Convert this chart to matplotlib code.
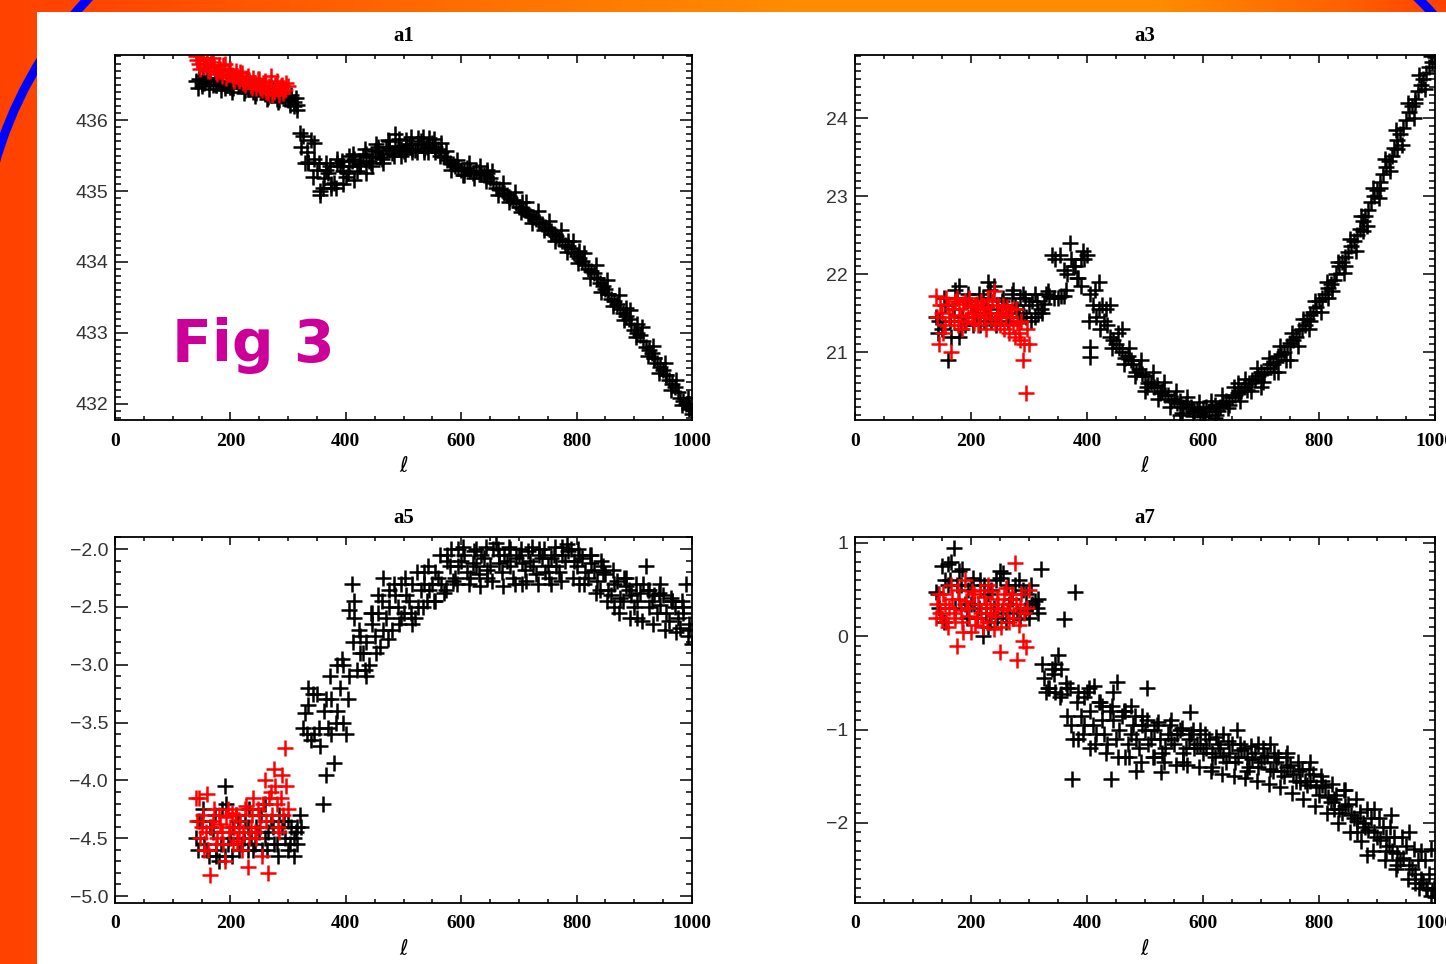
import numpy as np
import matplotlib.pyplot as plt
from matplotlib.patches import Rectangle, Arc

# ── data (ell = multipole) ────────────────────────────────────────────────
L_BLACK = [140, 150, 160, 170, 180, 190, 200, 210, 220, 230, 240, 250, 260, 270, 280,
           290, 300, 310, 320, 330, 340, 350, 360, 370, 380, 390, 400, 410, 420, 430,
           440, 450, 460, 470, 480, 490, 500, 510, 520, 530, 540, 550, 560, 570, 580,
           590, 600, 610, 620, 630, 640, 650, 660, 670, 680, 690, 700, 710, 720, 730,
           740, 750, 760, 770, 780, 790, 800, 810, 820, 830, 840, 850, 860, 870, 880,
           890, 900, 910, 920, 930, 940, 950, 960, 970, 980, 990, 1000]
L_BLACK2 = [145, 155, 165, 175, 185, 195, 205, 215, 225, 235, 245, 255, 265, 275, 285,
            295, 305, 315, 325, 335, 345, 355, 365, 375, 385, 395, 405, 415, 425, 435,
            445, 455, 465, 475, 485, 495, 505, 515, 525, 535, 545, 555, 565, 575, 585,
            595, 605, 615, 625, 635, 645, 655, 665, 675, 685, 695, 705, 715, 725, 735,
            745, 755, 765, 775, 785, 795, 805, 815, 825, 835, 845, 855, 865, 875, 885,
            895, 905, 915, 925, 935, 945, 955, 965, 975, 985, 995]
L_BLACK3 = [143, 153, 163, 173, 183, 193, 203, 213, 223, 233, 243, 253, 263, 273, 283,
            293, 303, 313, 323, 333, 343, 353, 363, 373, 383, 393, 403, 413, 423, 433,
            443, 453, 463, 473, 483, 493, 503, 513, 523, 533, 543, 553, 563, 573, 583,
            593, 603, 613, 623, 633, 643, 653, 663, 673, 683, 693, 703, 713, 723, 733,
            743, 753, 763, 773, 783, 793, 803, 813, 823, 833, 843, 853, 863, 873, 883,
            893, 903, 913, 923, 933, 943, 953, 963, 973, 983, 993]
L_RED = [140, 145, 150, 155, 160, 165, 170, 175, 180, 185, 190, 195, 200, 205, 210,
         215, 220, 225, 230, 235, 240, 245, 250, 255, 260, 265, 270, 275, 280, 285,
         290, 295, 300]
L_RED2 = [142, 147, 152, 157, 162, 167, 172, 177, 182, 187, 192, 197, 202, 207, 212,
          217, 222, 227, 232, 237, 242, 247, 252, 257, 262, 267, 272, 277, 282, 287,
          292, 297]

A1_BLACK = [436.55, 436.48, 436.60, 436.50, 436.56, 436.46, 436.47, 436.55, 436.48, 436.44,
            436.40, 436.46, 436.37, 436.35, 436.30, 436.34, 436.28, 436.20, 435.82, 435.40,
            435.72, 435.30, 435.05, 435.25, 435.12, 435.35, 435.20, 435.42, 435.28, 435.50,
            435.42, 435.56, 435.48, 435.62, 435.54, 435.64, 435.56, 435.66, 435.58, 435.70,
            435.62, 435.68, 435.60, 435.48, 435.40, 435.36, 435.30, 435.32, 435.26, 435.27,
            435.22, 435.18, 435.05, 435.02, 434.94, 434.88, 434.78, 434.73, 434.65, 434.61,
            434.53, 434.48, 434.40, 434.33, 434.24, 434.19, 434.08, 434.01, 433.90, 433.84,
            433.70, 433.62, 433.48, 433.40, 433.28, 433.20, 433.04, 432.97, 432.80, 432.72,
            432.58, 432.47, 432.33, 432.24, 432.08, 432.00, 431.85]
A1_BLACK2 = [436.58, 436.52, 436.55, 436.50, 436.52, 436.50, 436.45, 436.50, 436.42, 436.46,
             436.38, 436.42, 436.33, 436.38, 436.28, 436.30, 436.32, 436.22, 435.78, 435.40,
             435.45, 435.00, 435.30, 435.10, 435.40, 435.28, 435.35, 435.45, 435.38, 435.52,
             435.48, 435.58, 435.52, 435.58, 435.62, 435.60, 435.62, 435.60, 435.66, 435.60,
             435.66, 435.62, 435.55, 435.44, 435.38, 435.33, 435.30, 435.29, 435.28, 435.24,
             435.26, 435.12, 435.03, 434.97, 434.90, 434.83, 434.76, 434.68, 434.63, 434.57,
             434.50, 434.44, 434.36, 434.29, 434.22, 434.13, 434.05, 433.96, 433.87, 433.77,
             433.66, 433.55, 433.45, 433.34, 433.24, 433.12, 433.00, 432.88, 432.76, 432.64,
             432.52, 432.40, 432.28, 432.16, 432.04, 431.92]
A1_BLACK3 = [436.45, 436.62, 436.44, 436.60, 436.42, 436.56, 436.40, 436.55, 436.38, 436.50,
             436.34, 436.48, 436.30, 436.44, 436.26, 436.40, 436.22, 436.32, 435.62, 435.55,
             435.20, 435.40, 435.18, 435.35, 435.05, 435.42, 435.25, 435.52, 435.35, 435.60,
             435.40, 435.66, 435.45, 435.72, 435.50, 435.74, 435.52, 435.76, 435.55, 435.76,
             435.55, 435.74, 435.50, 435.56, 435.30, 435.44, 435.22, 435.40, 435.18, 435.36,
             435.14, 435.28, 434.95, 435.12, 434.84, 434.98, 434.70, 434.84, 434.55, 434.72,
             434.45, 434.58, 434.30, 434.45, 434.14, 434.30, 433.98, 434.12, 433.78, 433.95,
             433.58, 433.74, 433.38, 433.54, 433.18, 433.32, 432.94, 433.08, 432.68, 432.82,
             432.44, 432.58, 432.20, 432.34, 431.98, 432.08]
A1_EXTRA_L = [150, 175, 200, 305, 310, 315, 335, 345, 355, 365, 375, 385, 395, 405, 415,
              425, 435, 445, 455, 465, 475, 485, 495, 505, 515, 525, 535, 545, 555, 565,
              605, 645, 705, 755, 785, 805, 835, 855, 885, 905, 935, 955, 995]
A1_EXTRA_V = [436.52, 436.50, 436.47, 436.35, 436.25, 436.15, 435.41, 435.68, 434.94, 435.40,
              435.05, 435.45, 435.10, 435.50, 435.15, 435.40, 435.25, 435.35, 435.62, 435.40,
              435.70, 435.80, 435.50, 435.72, 435.55, 435.75, 435.55, 435.75, 435.55, 435.68,
              435.22, 435.30, 434.85, 434.40, 434.30, 434.15, 433.78, 433.55, 433.35, 433.12,
              432.65, 432.40, 431.95]
A1_RED = [436.90, 436.80, 436.95, 436.75, 436.85, 436.70, 436.88, 436.68, 436.78, 436.62,
          436.80, 436.65, 436.72, 436.58, 436.70, 436.55, 436.66, 436.50, 436.62, 436.48,
          436.60, 436.45, 436.58, 436.42, 436.55, 436.38, 436.62, 436.40, 436.55, 436.35,
          436.50, 436.42, 436.48]
A1_RED2 = [436.85, 436.72, 436.88, 436.80, 436.70, 436.82, 436.75, 436.65, 436.72, 436.78,
           436.60, 436.70, 436.64, 436.55, 436.62, 436.68, 436.52, 436.60, 436.55, 436.45,
           436.52, 436.58, 436.45, 436.52, 436.40, 436.48, 436.36, 436.50, 436.42, 436.48,
           436.38, 436.52]

A3_BLACK = [21.45, 21.30, 20.90, 21.55, 21.85, 21.35, 21.60, 21.45, 21.70, 21.50,
            21.85, 21.45, 21.60, 21.75, 21.55, 21.50, 21.60, 21.45, 21.55, 21.75,
            22.25, 21.70, 22.05, 22.40, 22.10, 21.85, 22.25, 21.60, 21.55, 21.40,
            21.20, 21.10, 21.00, 20.95, 20.85, 20.78, 20.70, 20.62, 20.58, 20.50,
            20.45, 20.40, 20.38, 20.33, 20.30, 20.26, 20.28, 20.25, 20.32, 20.30,
            20.38, 20.42, 20.48, 20.55, 20.60, 20.66, 20.75, 20.80, 20.85, 20.95,
            21.00, 21.12, 21.20, 21.30, 21.42, 21.52, 21.65, 21.75, 21.88, 22.00,
            22.15, 22.28, 22.42, 22.58, 22.75, 22.92, 23.08, 23.28, 23.45, 23.62,
            23.80, 23.98, 24.15, 24.35, 24.50, 24.65, 24.78]
A3_BLACK2 = [21.40, 21.60, 21.20, 21.70, 21.45, 21.75, 21.50, 21.35, 21.60, 21.40,
             21.55, 21.70, 21.50, 21.60, 21.70, 21.45, 21.65, 21.50, 21.62, 21.72,
             22.20, 21.72, 22.00, 22.10, 21.95, 22.20, 21.75, 21.45, 21.60, 21.35,
             21.15, 21.05, 20.92, 20.90, 20.75, 20.72, 20.60, 20.55, 20.48, 20.45,
             20.38, 20.35, 20.30, 20.28, 20.24, 20.22, 20.30, 20.28, 20.25, 20.35,
             20.32, 20.45, 20.50, 20.52, 20.64, 20.70, 20.72, 20.85, 20.88, 20.98,
             21.08, 21.15, 21.28, 21.35, 21.48, 21.58, 21.70, 21.82, 21.93, 22.10,
             22.22, 22.36, 22.50, 22.68, 22.82, 23.00, 23.18, 23.38, 23.52, 23.72,
             23.88, 24.08, 24.25, 24.42, 24.58, 24.72]
A3_BLACK3 = [21.25, 21.70, 21.40, 21.80, 21.30, 21.65, 21.35, 21.75, 21.40, 21.80,
             21.35, 21.65, 21.40, 21.80, 21.45, 21.70, 21.40, 21.65, 21.50, 21.78,
             21.70, 22.25, 21.80, 22.20, 21.95, 22.30, 21.40, 21.80, 21.30, 21.55,
             21.05, 21.25, 20.85, 21.05, 20.70, 20.90, 20.55, 20.75, 20.40, 20.62,
             20.30, 20.50, 20.22, 20.42, 20.18, 20.36, 20.18, 20.38, 20.20, 20.45,
             20.28, 20.55, 20.38, 20.66, 20.50, 20.80, 20.62, 20.92, 20.75, 21.08,
             20.90, 21.25, 21.08, 21.42, 21.30, 21.66, 21.52, 21.90, 21.78, 22.15,
             22.02, 22.45, 22.30, 22.75, 22.62, 23.10, 22.98, 23.48, 23.32, 23.85,
             23.65, 24.20, 24.00, 24.55, 24.38, 24.80]
A3_EXTRA_L = [180, 230, 290, 310, 360, 390, 406, 406, 420, 440, 460, 500, 560, 600, 620,
              660, 700, 730, 750, 785, 815, 845, 875, 905, 935, 965]
A3_EXTRA_V = [21.20, 21.90, 21.75, 21.75, 21.72, 22.20, 21.06, 20.94, 21.90, 21.60,
              21.30, 20.50, 20.20, 20.18, 20.15, 20.60, 20.55, 20.75, 20.90, 21.40,
              21.70, 22.10, 22.55, 23.10, 23.60, 24.20]
A3_RED = [21.72, 21.10, 21.50, 21.35, 21.62, 21.00, 21.40, 21.70, 21.55, 21.30,
          21.65, 21.45, 21.58, 21.38, 21.62, 21.48, 21.55, 21.30, 21.68, 21.42,
          21.78, 21.50, 21.35, 21.60, 21.45, 21.25, 21.55, 21.20, 21.38, 21.15,
          20.90, 20.48, 21.10]
A3_RED2 = [21.45, 21.60, 21.25, 21.70, 21.45, 21.55, 21.65, 21.35, 21.48, 21.62,
           21.40, 21.70, 21.50, 21.60, 21.35, 21.66, 21.45, 21.58, 21.50, 21.65,
           21.38, 21.60, 21.48, 21.30, 21.58, 21.45, 21.35, 21.55, 21.25, 21.40,
           21.10, 21.30]

A5_BLACK = [-4.50, -4.35, -4.60, -4.45, -4.70, -4.05, -4.50, -4.30, -4.55, -4.40,
            -4.60, -4.45, -4.50, -4.35, -4.55, -4.40, -4.60, -4.50, -4.30, -3.42,
            -3.65, -3.25, -4.20, -3.55, -3.85, -3.20, -3.60, -2.30, -3.05, -2.90,
            -3.00, -2.75, -2.85, -2.60, -2.70, -2.50, -2.55, -2.45, -2.60, -2.35,
            -2.45, -2.30, -2.25, -2.38, -2.15, -2.25, -2.10, -2.20, -2.12, -2.22,
            -2.08, -2.15, -1.95, -2.20, -2.10, -2.25, -2.05, -2.18, -2.10, -2.22,
            -2.08, -2.15, -2.05, -2.20, -2.10, -2.00, -2.15, -2.08, -2.25, -2.18,
            -2.35, -2.22, -2.40, -2.28, -2.45, -2.35, -2.50, -2.38, -2.15, -2.45,
            -2.55, -2.40, -2.62, -2.50, -2.68, -2.30, -2.82]
A5_BLACK2 = [-4.35, -4.55, -4.40, -4.60, -4.25, -4.55, -4.40, -4.60, -4.35, -4.50,
             -4.40, -4.60, -4.45, -4.55, -4.30, -4.50, -4.40, -4.55, -3.55, -3.35,
             -3.60, -3.70, -3.30, -3.60, -3.40, -3.00, -3.10, -2.60, -2.90, -2.80,
             -2.65, -2.55, -2.70, -2.50, -2.40, -2.60, -2.40, -2.30, -2.50, -2.30,
             -2.35, -2.20, -2.30, -2.10, -2.28, -2.15, -2.05, -2.25, -2.15, -2.05,
             -2.18, -2.00, -2.12, -2.05, -2.15, -2.08, -2.12, -2.02, -2.15, -2.05,
             -2.20, -2.08, -2.15, -2.05, -2.02, -2.10, -2.05, -2.20, -2.12, -2.28,
             -2.20, -2.35, -2.30, -2.42, -2.32, -2.40, -2.45, -2.30, -2.50, -2.40,
             -2.48, -2.55, -2.45, -2.60, -2.50, -2.65]
A5_BLACK3 = [-4.60, -4.25, -4.65, -4.30, -4.55, -4.20, -4.65, -4.35, -4.50, -4.25,
             -4.55, -4.30, -4.60, -4.40, -4.65, -4.35, -4.55, -4.45, -4.40, -3.60,
             -3.25, -3.55, -3.40, -3.10, -3.50, -2.95, -3.30, -2.80, -2.70, -3.05,
             -2.55, -2.90, -2.45, -2.78, -2.30, -2.65, -2.25, -2.55, -2.20, -2.50,
             -2.15, -2.45, -2.05, -2.35, -2.00, -2.30, -1.98, -2.30, -2.02, -2.32,
             -1.98, -2.28, -2.00, -2.32, -1.98, -2.30, -2.00, -2.28, -1.98, -2.30,
             -2.00, -2.25, -1.98, -2.28, -1.96, -2.25, -2.00, -2.30, -2.05, -2.38,
             -2.10, -2.45, -2.18, -2.55, -2.25, -2.60, -2.30, -2.62, -2.35, -2.65,
             -2.38, -2.70, -2.42, -2.72, -2.45, -2.75]
A5_EXTRA_L = [175, 190, 230, 260, 300, 310, 315, 335, 365, 375, 385, 395, 405, 415, 425,
              435, 445, 455, 465, 475, 495, 515, 535, 555, 575, 595, 625, 645, 665, 685,
              705, 735, 755, 775, 805, 825, 845, 865, 885, 905, 925, 945, 965, 985, 995]
A5_EXTRA_V = [-4.65, -4.65, -4.60, -4.20, -4.35, -4.65, -4.40, -3.20, -3.95, -3.30,
              -3.00, -3.50, -2.53, -2.45, -2.75, -3.10, -2.55, -2.40, -2.25, -2.35,
              -2.30, -2.65, -2.20, -2.45, -2.05, -2.00, -2.00, -2.25, -2.05, -2.00,
              -2.30, -2.00, -2.30, -1.98, -2.30, -2.05, -2.15, -2.50, -2.25, -2.60,
              -2.35, -2.30, -2.45, -2.55, -2.70]
A5_RED = [-4.15, -4.15, -4.40, -4.60, -4.12, -4.82, -4.35, -4.55, -4.30, -4.45,
          -4.70, -4.25, -4.40, -4.55, -4.30, -4.45, -4.60, -4.25, -4.75, -4.40,
          -4.15, -4.50, -4.30, -4.65, -4.00, -4.80, -4.10, -3.90, -4.20, -4.45,
          -3.95, -3.72, -4.25]
A5_RED2 = [-4.35, -4.50, -4.30, -4.45, -4.60, -4.40, -4.25, -4.50, -4.38, -4.55,
           -4.32, -4.45, -4.28, -4.40, -4.52, -4.35, -4.45, -4.22, -4.50, -4.30,
           -4.45, -4.25, -4.40, -4.20, -4.35, -4.15, -4.30, -4.05, -4.40, -4.15,
           -4.30, -4.05]

A7_BLACK = [0.47, 0.75, 0.77, 0.95, 0.70, 0.35, 0.55, 0.20, 0.00, 0.45,
            0.30, 0.62, 0.15, 0.40, 0.25, 0.50, 0.30, 0.38, 0.72, -0.60,
            -0.35, -0.20, 0.18, -0.55, 0.47, -0.85, -0.60, -0.95, -0.70, -1.05,
            -0.80, -1.10, -0.85, -1.15, -0.95, -1.20, -1.00, -1.10, -0.95, -1.25,
            -1.05, -1.15, -1.00, -1.20, -1.05, -1.15, -1.25, -1.10, -1.30, -1.20,
            -1.35, -1.15, -1.30, -1.20, -1.40, -1.25, -1.35, -1.28, -1.45, -1.30,
            -1.50, -1.38, -1.55, -1.42, -1.60, -1.48, -1.70, -1.62, -1.78, -1.70,
            -1.90, -1.80, -1.95, -1.88, -2.05, -1.95, -2.15, -2.05, -2.25, -2.15,
            -2.40, -2.25, -2.50, -2.40, -2.65, -2.55, -2.80]
A7_BLACK2 = [0.30, 0.60, 0.80, 0.55, 0.72, 0.50, 0.35, 0.60, 0.25, 0.50,
             0.20, 0.68, 0.35, 0.55, 0.18, 0.45, 0.35, 0.25, -0.45, -0.55,
             -0.30, -0.62, -0.85, -1.10, -0.60, -0.95, -0.80, -1.05, -0.75, -1.15,
             -0.90, -1.00, -0.80, -1.05, -1.10, -0.95, -1.15, -1.00, -1.10, -1.20,
             -1.10, -1.05, -1.25, -1.10, -1.20, -1.15, -1.20, -1.25, -1.15, -1.28,
             -1.25, -1.35, -1.22, -1.30, -1.32, -1.40, -1.30, -1.42, -1.35, -1.45,
             -1.40, -1.48, -1.45, -1.55, -1.55, -1.62, -1.60, -1.72, -1.75, -1.85,
             -1.82, -1.92, -1.98, -2.00, -2.08, -2.10, -2.18, -2.15, -2.30, -2.32,
             -2.38, -2.45, -2.55, -2.60, -2.70, -2.72]
A7_BLACK3 = [0.45, 0.15, 0.60, 0.30, 0.55, 0.20, 0.62, 0.30, 0.55, 0.15,
             0.60, 0.25, 0.55, 0.20, 0.60, 0.28, 0.55, 0.30, -0.30, -0.55,
             -0.40, -0.65, -0.50, -0.95, -0.70, -1.05, -0.55, -1.15, -0.70, -1.25,
             -0.75, -1.30, -0.80, -1.30, -0.85, -1.35, -0.90, -1.30, -0.92, -1.35,
             -0.95, -1.38, -0.98, -1.38, -1.00, -1.40, -1.05, -1.45, -1.08, -1.48,
             -1.12, -1.50, -1.15, -1.52, -1.18, -1.55, -1.20, -1.58, -1.25, -1.62,
             -1.30, -1.68, -1.35, -1.75, -1.42, -1.82, -1.50, -1.90, -1.58, -2.00,
             -1.65, -2.10, -1.75, -2.20, -1.85, -2.30, -1.95, -2.40, -2.05, -2.50,
             -2.15, -2.60, -2.28, -2.70, -2.40, -2.78]
A7_EXTRA_L = [160, 200, 230, 250, 300, 315, 345, 355, 365, 374, 385, 395, 405, 412, 425,
              441, 445, 452, 465, 475, 485, 495, 503, 515, 527, 545, 565, 578, 595, 615,
              635, 659, 675, 695, 715, 745, 768, 785, 805, 826, 845, 865, 883, 895, 915,
              924, 935, 955, 965, 975, 987, 993, 998]
A7_EXTRA_V = [0.55, 0.35, 0.10, 0.70, 0.20, 0.40, -0.60, -0.35, -0.56, -1.53,
              -1.10, -0.65, -1.20, -0.53, -0.90, -1.53, -0.60, -0.49, -1.30, -0.75,
              -1.45, -0.85, -0.56, -1.30, -1.46, -0.90, -1.35, -0.81, -1.00, -1.40,
              -1.05, -1.00, -1.45, -1.15, -1.15, -1.25, -1.56, -1.35, -1.55, -1.85,
              -1.65, -2.10, -2.35, -1.85, -2.30, -1.92, -2.45, -2.10, -2.65, -2.30,
              -2.71, -2.28, -2.70]
A7_RED = [0.20, 0.45, 0.20, 0.35, 0.10, 0.55, 0.25, -0.10, 0.40, 0.15,
          0.60, 0.30, 0.05, 0.45, 0.20, 0.50, 0.10, 0.35, 0.55, 0.25,
          0.08, 0.40, -0.17, 0.30, 0.52, 0.15, 0.45, 0.78, -0.25, 0.30,
          -0.05, -0.12, 0.50]
A7_RED2 = [0.35, 0.25, 0.45, 0.15, 0.30, 0.40, 0.20, 0.50, 0.28, 0.05,
           0.38, 0.22, 0.48, 0.12, 0.35, 0.25, 0.42, 0.15, 0.30, 0.48,
           0.22, 0.35, 0.10, 0.45, 0.28, 0.40, 0.20, 0.35, 0.12, 0.45,
           0.25, 0.30]

W, H = 1446, 964
fig = plt.figure(figsize=(W / 100, H / 100), dpi=100)

# ── slide background: orange frame, blue arcs, white card ─────────────────
bg = fig.add_axes([0, 0, 1, 1], zorder=-10)
xs = np.linspace(0, 1, 500)
g = np.interp(xs, [0, 0.06, 0.35, 0.55, 0.8, 0.93, 1.0],
              [0.26, 0.27, 0.45, 0.55, 0.55, 0.38, 0.26])
grad = np.stack([np.ones_like(xs), g, np.zeros_like(xs)], axis=-1)[None]
bg.imshow(grad, extent=[0, W, H, 0], aspect='auto', zorder=0)
bg.add_patch(Arc((380, 272), 800, 800, theta1=185, theta2=240,
                 color='#0000ff', lw=6.5, zorder=1))
bg.add_patch(Arc((1137, 283), 800, 800, theta1=-70, theta2=-20,
                 color='#0000ff', lw=6.5, zorder=1))
bg.add_patch(Rectangle((37, 12), W - 37, H - 12, fc='white', ec='none', zorder=2))
bg.set_xlim(0, W)
bg.set_ylim(H, 0)
bg.axis('off')


def px_rect(left, top, right, bottom):
    return [left / W, 1 - bottom / H, (right - left) / W, (bottom - top) / H]


def panel(rect, title, blacks, extra, reds, ylim, yticks, ylabels, yminor):
    ax = fig.add_axes(rect)
    style = dict(ls='none', marker='+', ms=12, mew=1.8)
    for ls_, vals in zip([L_BLACK, L_BLACK2, L_BLACK3], blacks):
        ax.plot(ls_, vals, color='black', **style)
    ax.plot(extra[0], extra[1], color='black', **style)
    for ls_, vals in zip([L_RED, L_RED2], reds):
        ax.plot(ls_, vals, color='red', **style)
    ax.set_xlim(0, 1000)
    ax.set_ylim(*ylim)

    ax.set_xticks([0, 200, 400, 600, 800, 1000],
                  ['0', '200', '400', '600', '800', '1000'],
                  fontfamily='Liberation Serif', fontweight='bold', fontsize=14)
    ax.set_xticks(np.arange(0, 1001, 50), minor=True)
    ax.set_yticks(yticks, ylabels, fontfamily='Liberation Sans', fontsize=14, color='#333333')
    ax.set_yticks(yminor, minor=True)

    ax.tick_params(which='both', direction='in', top=True, right=True, width=1.1)
    ax.tick_params(axis='x', which='major', length=6, pad=9)
    ax.tick_params(axis='x', which='minor', length=3)
    ax.tick_params(axis='y', which='major', length=9, pad=5)
    ax.tick_params(axis='y', which='minor', length=4.5)
    for s in ax.spines.values():
        s.set_linewidth(1.3)

    ax.set_title(title, fontfamily='Liberation Serif', fontweight='bold', fontsize=15, pad=10)
    ax.set_xlabel(r'$\ell$', fontsize=15, labelpad=5)
    return ax


panel(px_rect(115, 55, 692, 420), 'a1', [A1_BLACK, A1_BLACK2, A1_BLACK3],
      (A1_EXTRA_L, A1_EXTRA_V), [A1_RED, A1_RED2], (431.77, 436.92),
      [432, 433, 434, 435, 436], ['432', '433', '434', '435', '436'],
      np.arange(431.8, 436.95, 0.1))
panel(px_rect(855, 55, 1435, 420), 'a3', [A3_BLACK, A3_BLACK2, A3_BLACK3],
      (A3_EXTRA_L, A3_EXTRA_V), [A3_RED, A3_RED2], (20.13, 24.81),
      [21, 22, 23, 24], ['21', '22', '23', '24'], np.arange(20.2, 24.85, 0.1))
panel(px_rect(115, 537, 692, 903), 'a5', [A5_BLACK, A5_BLACK2, A5_BLACK3],
      (A5_EXTRA_L, A5_EXTRA_V), [A5_RED, A5_RED2], (-5.06, -1.896),
      [-5.0, -4.5, -4.0, -3.5, -3.0, -2.5, -2.0],
      ['\u22125.0', '\u22124.5', '\u22124.0', '\u22123.5', '\u22123.0', '\u22122.5', '\u22122.0'],
      np.arange(-5.0, -1.89, 0.1))
panel(px_rect(855, 537, 1435, 903), 'a7', [A7_BLACK, A7_BLACK2, A7_BLACK3],
      (A7_EXTRA_L, A7_EXTRA_V), [A7_RED, A7_RED2], (-2.86, 1.064),
      [-2, -1, 0, 1], ['\u22122', '\u22121', '0', '1'], np.arange(-2.8, 1.07, 0.1))

fig.text(172 / W, 1 - 362 / H, 'Fig 3', color='#cc0099', fontsize=42,
         fontfamily='DejaVu Sans', fontweight='bold', va='baseline')

fig.savefig('out.png', dpi=100)
